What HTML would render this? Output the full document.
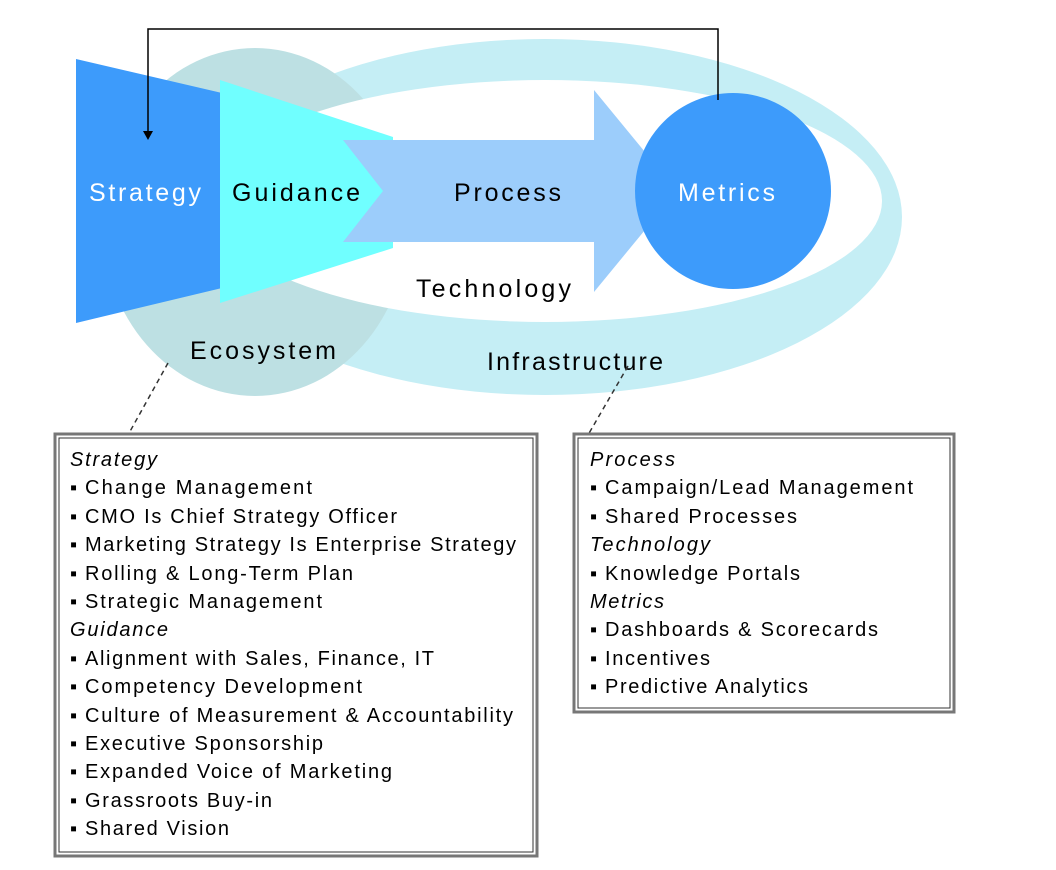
<!DOCTYPE html>
<html><head><meta charset="utf-8"><style>
html,body{margin:0;padding:0;background:#fff;}
svg{display:block;}
text{font-family:"Liberation Sans",Arial,sans-serif;}
</style></head><body>
<svg width="1056" height="870" viewBox="0 0 1056 870" xmlns="http://www.w3.org/2000/svg">
<!-- outer ring -->
<ellipse cx="545" cy="217" rx="357" ry="178" fill="#c5eef5"/>
<!-- ecosystem circle -->
<ellipse cx="255" cy="222" rx="153" ry="174" fill="#bde0e3"/>
<!-- inner white -->
<ellipse cx="545" cy="201" rx="337" ry="121" fill="#fff"/>
<!-- strategy -->
<polygon points="76,59 222,93 222,288 76,323" fill="#3d9bfb"/>
<!-- guidance -->
<polygon points="220,80 393,137 393,248 220,303" fill="#70ffff"/>
<!-- process arrow -->
<polygon points="343,140 594,140 594,90 677,191 594,292 594,242 343,242 383,191" fill="#9ccdfb"/>
<!-- metrics -->
<circle cx="733" cy="191" r="98" fill="#3d9bfb"/>
<!-- connector -->
<polyline points="718,100 718,29 148,29 148,132" fill="none" stroke="#000" stroke-width="1.5"/>
<polygon points="143,131 153,131 148,140" fill="#000"/>
<!-- labels -->
<g font-size="25" lengthAdjust="spacing">
<text x="89" y="201" fill="#fff" textLength="112">Strategy</text>
<text x="232" y="201" fill="#000" textLength="128">Guidance</text>
<text x="454" y="201" fill="#000" textLength="107">Process</text>
<text x="678" y="201" fill="#fff" textLength="97">Metrics</text>
<text x="416" y="297" fill="#000" textLength="155">Technology</text>
<text x="190" y="359" fill="#000" textLength="146">Ecosystem</text>
<text x="487" y="370" fill="#000" textLength="176">Infrastructure</text>
</g>
<!-- dashed leaders -->
<line x1="168" y1="363" x2="128" y2="435" stroke="#333" stroke-width="1.5" stroke-dasharray="5,4"/>
<line x1="628" y1="366" x2="588" y2="435" stroke="#333" stroke-width="1.5" stroke-dasharray="5,4"/>
<!-- boxes -->
<rect x="55" y="434" width="482" height="422" fill="#fff" stroke="#777" stroke-width="3"/>
<rect x="59" y="438" width="474" height="414" fill="none" stroke="#333" stroke-width="1"/>
<rect x="574" y="434" width="380" height="278" fill="#fff" stroke="#777" stroke-width="3"/>
<rect x="578" y="438" width="372" height="270" fill="none" stroke="#333" stroke-width="1"/>
<g font-size="20" fill="#000">
<text x="70" y="466" font-style="italic" textLength="87">Strategy</text>
<text x="70" y="494">▪</text><text x="85" y="494" textLength="227">Change Management</text>
<text x="70" y="523">▪</text><text x="85" y="523" textLength="312">CMO Is Chief Strategy Officer</text>
<text x="70" y="551">▪</text><text x="85" y="551" textLength="431">Marketing Strategy Is Enterprise Strategy</text>
<text x="70" y="580">▪</text><text x="85" y="580" textLength="268">Rolling &amp; Long-Term Plan</text>
<text x="70" y="608">▪</text><text x="85" y="608" textLength="237">Strategic Management</text>
<text x="70" y="636" font-style="italic" textLength="98">Guidance</text>
<text x="70" y="665">▪</text><text x="85" y="665" textLength="349">Alignment with Sales, Finance, IT</text>
<text x="70" y="693">▪</text><text x="85" y="693" textLength="277">Competency Development</text>
<text x="70" y="722">▪</text><text x="85" y="722" textLength="428">Culture of Measurement &amp; Accountability</text>
<text x="70" y="750">▪</text><text x="85" y="750" textLength="238">Executive Sponsorship</text>
<text x="70" y="778">▪</text><text x="85" y="778" textLength="307">Expanded Voice of Marketing</text>
<text x="70" y="807">▪</text><text x="85" y="807" textLength="187">Grassroots Buy-in</text>
<text x="70" y="835">▪</text><text x="85" y="835" textLength="144">Shared Vision</text>
<text x="590" y="466" font-style="italic" textLength="85">Process</text>
<text x="590" y="494">▪</text><text x="605" y="494" textLength="308">Campaign/Lead Management</text>
<text x="590" y="523">▪</text><text x="605" y="523" textLength="192">Shared Processes</text>
<text x="590" y="551" font-style="italic" textLength="120">Technology</text>
<text x="590" y="580">▪</text><text x="605" y="580" textLength="195">Knowledge Portals</text>
<text x="590" y="608" font-style="italic" textLength="74">Metrics</text>
<text x="590" y="636">▪</text><text x="605" y="636" textLength="273">Dashboards &amp; Scorecards</text>
<text x="590" y="665">▪</text><text x="605" y="665" textLength="105">Incentives</text>
<text x="590" y="693">▪</text><text x="605" y="693" textLength="203">Predictive Analytics</text>
</g>
</svg>
</body></html>
